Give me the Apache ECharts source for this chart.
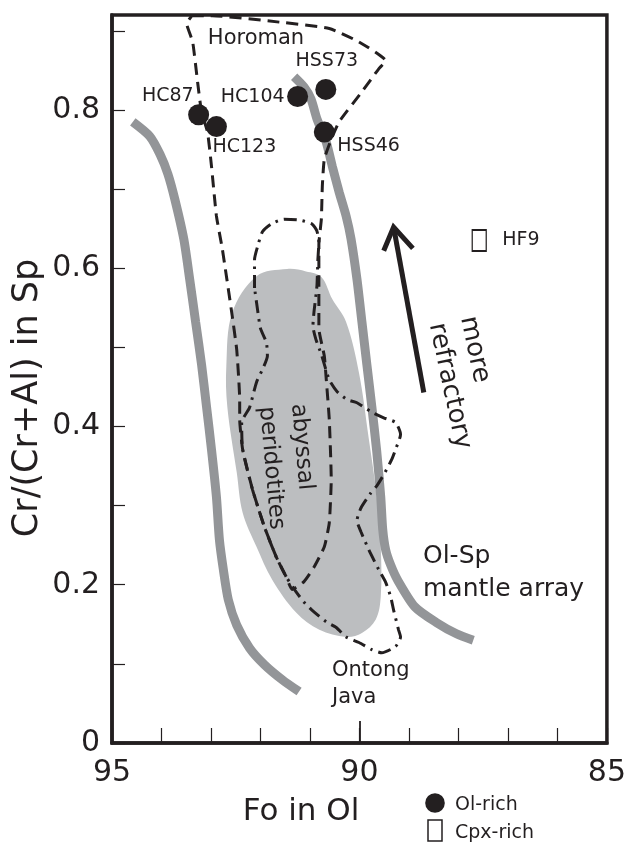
<!DOCTYPE html>
<html>
<head>
<meta charset="utf-8">
<script src="https://cdn.jsdelivr.net/npm/echarts@6/dist/echarts.min.js"></script>
<style>
html,body{margin:0;padding:0;background:#fff;}
#chart{width:629px;height:842px;}
</style>
</head>
<body>
<div id="chart"></div>
<script>
// ---------------- data ----------------
const sampleNames = ['HC87', 'HC123', 'HC104', 'HSS73', 'HSS46'];
const olRichFo = [93.25, 92.89, 91.25, 90.68, 90.71];
const olRichCr = [0.794, 0.779, 0.817, 0.826, 0.772];

const cpxNames = ['HF9'];
const cpxRichFo = [87.58];
const cpxRichCr = [0.635];

// Ol-Sp mantle array boundaries
const mantleLeftFo = [94.58, 94.24, 94.03, 93.87, 93.73, 93.55, 93.43, 93.31, 93.19, 93.09, 92.99, 92.89, 92.83, 92.75, 92.65, 92.48, 92.22, 91.92, 91.56, 91.22];
const mantleLeftCr = [0.785, 0.767, 0.744, 0.719, 0.687, 0.637, 0.586, 0.532, 0.478, 0.425, 0.371, 0.311, 0.257, 0.219, 0.181, 0.149, 0.120, 0.099, 0.080, 0.065];
const mantleRightFo = [91.32, 91.12, 90.98, 90.86, 90.67, 90.55, 90.41, 90.27, 90.17, 90.05, 89.95, 89.85, 89.75, 89.65, 89.57, 89.53, 89.47, 89.37, 89.23, 88.88, 88.44, 88.04, 87.70];
const mantleRightCr = [0.842, 0.829, 0.814, 0.789, 0.759, 0.729, 0.696, 0.666, 0.637, 0.586, 0.532, 0.478, 0.425, 0.368, 0.311, 0.270, 0.244, 0.225, 0.206, 0.172, 0.152, 0.138, 0.130];

// abyssal peridotites field
const abyssalFo = [91.46, 92.08, 92.57, 92.69, 92.67, 92.48, 92.36, 92.08, 91.76, 91.28, 90.81, 90.27, 89.95, 89.67, 89.57, 89.57, 89.65, 89.81, 90.01, 90.27, 90.55, 90.77, 91.08];
const abyssalCr = [0.599, 0.590, 0.544, 0.476, 0.425, 0.342, 0.291, 0.248, 0.206, 0.165, 0.143, 0.134, 0.139, 0.156, 0.185, 0.248, 0.311, 0.384, 0.468, 0.532, 0.561, 0.589, 0.596];

// Horoman field (dashed)
const horomanFo = [93.39, 92.97, 91.62, 90.61, 90.01, 89.47, 89.61, 89.95, 90.41, 90.57, 90.71, 90.75, 90.77, 90.82, 90.82, 90.82, 90.71, 90.67, 90.61, 90.57, 90.61, 90.71, 90.92, 91.12, 91.36, 91.48, 91.68, 91.92, 92.16, 92.36, 92.42, 92.42, 92.48, 92.59, 92.77, 92.89, 92.99, 93.07, 93.19, 93.27, 93.37, 93.49, 93.39];
const horomanCr = [0.919, 0.919, 0.911, 0.903, 0.886, 0.862, 0.852, 0.823, 0.785, 0.763, 0.738, 0.704, 0.662, 0.630, 0.586, 0.524, 0.489, 0.459, 0.409, 0.333, 0.278, 0.248, 0.222, 0.204, 0.194, 0.210, 0.235, 0.273, 0.320, 0.371, 0.409, 0.434, 0.497, 0.548, 0.624, 0.666, 0.729, 0.772, 0.797, 0.835, 0.886, 0.909, 0.919];

// Ontong Java field (dash-dot)
const ontongFo = [92.12, 92.12, 92.06, 91.96, 91.78, 91.52, 91.22, 90.96, 90.86, 90.82, 90.84, 90.86, 90.92, 90.94, 90.88, 90.77, 90.61, 90.45, 90.25, 90.05, 89.75, 89.51, 89.27, 89.17, 89.27, 89.35, 89.51, 89.65, 89.77, 89.97, 90.05, 89.97, 89.81, 89.61, 89.47, 89.37, 89.31, 89.21, 89.17, 89.27, 89.55, 89.75, 90.01, 90.27, 90.47, 90.67, 90.96, 91.12, 91.28, 91.48, 91.68, 91.92, 92.16, 92.36, 92.38, 92.22, 92.08, 91.96, 91.86, 91.88, 92.00, 92.06, 92.12];
const ontongCr = [0.575, 0.611, 0.627, 0.646, 0.656, 0.662, 0.661, 0.656, 0.647, 0.633, 0.611, 0.577, 0.544, 0.527, 0.510, 0.491, 0.459, 0.444, 0.434, 0.430, 0.418, 0.411, 0.405, 0.390, 0.371, 0.358, 0.339, 0.325, 0.316, 0.297, 0.281, 0.267, 0.244, 0.219, 0.203, 0.185, 0.168, 0.143, 0.134, 0.122, 0.114, 0.118, 0.127, 0.134, 0.146, 0.153, 0.168, 0.178, 0.191, 0.210, 0.235, 0.273, 0.320, 0.371, 0.405, 0.424, 0.456, 0.472, 0.489, 0.506, 0.524, 0.548, 0.575];

// "more refractory" arrow
const arrowFo = [88.70, 89.31];
const arrowCr = [0.443, 0.652];
const arrowHeadFo = [89.51, 89.31, 88.92];
const arrowHeadCr = [0.622, 0.652, 0.625];

// axis
const xMin = 85, xMax = 95, yMin = 0, yMax = 0.92;
const xTickLabels = ['85', '90', '95'];
const yTickLabels = ['0', '0.2', '0.4', '0.6', '0.8'];

// ---------------- styling / layout ----------------
const INK = '#231f20';
const FONT = 'DejaVu Sans';
const zip = (a, b) => a.map((v, i) => [v, b[i]]);

const labelPlacement = {
  HC87: { align: 'right', offset: [-5, -19] },
  HC123: { align: 'left', offset: [-4, 20] },
  HC104: { align: 'right', offset: [-13, 1] },
  HSS73: { align: 'center', offset: [1, -28] },
  HSS46: { align: 'left', offset: [13, 14] },
  HF9: { align: 'left', offset: [23, 0] }
};
function pointItem(name, x, y) {
  const p = labelPlacement[name];
  return {
    name: name, value: [x, y],
    label: { show: true, position: 'inside', align: p.align, verticalAlign: 'middle', offset: p.offset,
      formatter: '{b}', color: INK, fontFamily: FONT, fontSize: 19, opacity: 1 }
  };
}

const chart = echarts.init(document.getElementById('chart'), null, { renderer: 'canvas' });

const yLabelFmt = v => {
  const k = Math.round(v * 10);
  if (Math.abs(v * 10 - k) > 1e-6 || k % 2 !== 0) return '';
  const s = k === 0 ? '0' : (k / 10).toFixed(1);
  return yTickLabels.indexOf(s) >= 0 ? s : '';
};
const xLabelFmt = v => {
  const s = String(Math.round(v));
  return xTickLabels.indexOf(s) >= 0 ? s : '';
};

const option = {
  animation: false,
  backgroundColor: '#fff',
  grid: { left: 112, top: 15, width: 497, height: 728, show: true, borderColor: INK, borderWidth: 3.5, backgroundColor: 'transparent' },
  xAxis: [
    { type: 'value', gridIndex: 0, position: 'bottom', min: xMin, max: xMax, interval: 1, inverse: true,
      axisLine: { show: true, lineStyle: { color: INK, width: 3.5 } },
      axisTick: { show: true, inside: true, length: 15, lineStyle: { color: INK, width: 1.2 } },
      axisLabel: { show: false }, splitLine: { show: false } },
    { type: 'value', gridIndex: 0, position: 'bottom', min: xMin, max: xMax, interval: 5, inverse: true,
      axisLine: { show: false },
      axisTick: { show: true, inside: true, length: 22, lineStyle: { color: INK, width: 1.8 } },
      axisLabel: { show: true, margin: 15, color: INK, fontFamily: FONT, fontSize: 30, formatter: xLabelFmt },
      splitLine: { show: false } }
  ],
  yAxis: [
    { type: 'value', min: yMin, max: yMax, interval: 0.1,
      axisLine: { show: true, lineStyle: { color: INK, width: 3.5 } },
      axisTick: { show: true, inside: true, length: 13, lineStyle: { color: INK, width: 1.2 } },
      axisLabel: { show: true, margin: 12, color: INK, fontFamily: FONT, fontSize: 30, formatter: yLabelFmt, showMaxLabel: false },
      splitLine: { show: false } }
  ],
  series: [
    { // abyssal peridotites field
      type: 'custom', name: 'abyssal', z: 1, silent: true,
      data: [0],
      renderItem: function (params, api) {
        const pts = abyssalFo.map((x, i) => api.coord([x, abyssalCr[i]]));
        return { type: 'polygon', shape: { points: pts, smooth: 0.35 }, style: { fill: '#bcbec0', stroke: null } };
      }
    },
    { type: 'line', name: 'mantleLeft', z: 2, data: zip(mantleLeftFo, mantleLeftCr), showSymbol: false, symbol: 'none', smooth: 0.25,
      lineStyle: { color: '#939598', width: 9, cap: 'butt' } },
    { type: 'line', name: 'mantleRight', z: 2, data: zip(mantleRightFo, mantleRightCr), showSymbol: false, symbol: 'none', smooth: 0.25,
      lineStyle: { color: '#939598', width: 9, cap: 'butt' } },
    { type: 'line', name: 'Horoman', z: 3, data: zip(horomanFo, horomanCr), showSymbol: false, symbol: 'none', smooth: 0.15,
      lineStyle: { color: INK, width: 3, type: [12, 7] } },
    { type: 'line', name: 'Ontong Java', z: 3, data: zip(ontongFo, ontongCr), showSymbol: false, symbol: 'none', smooth: 0.2,
      lineStyle: { color: INK, width: 3, type: [13, 6, 2.5, 6] } },
    { type: 'line', name: 'arrow', z: 4, data: zip(arrowFo, arrowCr), showSymbol: false, symbol: 'none',
      lineStyle: { color: INK, width: 5, cap: 'butt' } },
    { type: 'line', name: 'arrowHead', z: 4, data: zip(arrowHeadFo, arrowHeadCr), showSymbol: false, symbol: 'none',
      lineStyle: { color: INK, width: 5, join: 'miter', cap: 'butt' } },
    { type: 'scatter', name: 'Ol-rich', z: 5, symbol: 'circle', symbolSize: 21,
      itemStyle: { color: INK, opacity: 1 },
      data: sampleNames.map((n, i) => pointItem(n, olRichFo[i], olRichCr[i])) },
    { type: 'scatter', name: 'Cpx-rich', z: 5, symbol: 'rect', symbolSize: [14, 21],
      itemStyle: { color: '#fff', borderColor: INK, borderWidth: 1.5, opacity: 1 },
      data: cpxNames.map((n, i) => pointItem(n, cpxRichFo[i], cpxRichCr[i])) }
  ],
  graphic: [
    { type: 'text', x: 28, y: 398, rotation: Math.PI / 2,
      style: { text: 'Cr/(Cr+Al) in Sp', font: '35px "DejaVu Sans"', fill: INK, align: 'center', verticalAlign: 'middle' } },
    { type: 'text', x: 301, y: 812,
      style: { text: 'Fo in Ol', font: '31px "DejaVu Sans"', fill: INK, align: 'center', verticalAlign: 'middle' } },
    { type: 'text', x: 256, y: 39, z: 10,
      style: { text: 'Horoman', font: '21px "DejaVu Sans"', fill: INK, align: 'center', verticalAlign: 'middle' } },
    { type: 'text', x: 282, y: 405, z: 10, rotation: -85 * Math.PI / 180,
      style: { text: 'abyssal\nperidotites', font: '23px "DejaVu Sans"', lineHeight: 32, fill: INK, align: 'left', verticalAlign: 'middle' } },
    { type: 'text', x: 452, y: 320, z: 10, rotation: -78 * Math.PI / 180,
      style: { text: 'more\nrefractory', font: '26px "DejaVu Sans"', lineHeight: 32, fill: INK, align: 'left', verticalAlign: 'middle' } },
    { type: 'text', x: 423, y: 556, z: 10,
      style: { text: 'Ol-Sp', font: '25px "DejaVu Sans"', fill: INK, align: 'left', verticalAlign: 'middle' } },
    { type: 'text', x: 423, y: 589, z: 10,
      style: { text: 'mantle array', font: '25px "DejaVu Sans"', fill: INK, align: 'left', verticalAlign: 'middle' } },
    { type: 'text', x: 332, y: 671, z: 10,
      style: { text: 'Ontong', font: '21px "DejaVu Sans"', fill: INK, align: 'left', verticalAlign: 'middle' } },
    { type: 'text', x: 332, y: 698, z: 10,
      style: { text: 'Java', font: '21px "DejaVu Sans"', fill: INK, align: 'left', verticalAlign: 'middle' } },
    // legend
    { type: 'circle', shape: { cx: 435, cy: 803, r: 9.8 }, style: { fill: INK } },
    { type: 'text', x: 455, y: 805,
      style: { text: 'Ol-rich', font: '19px "DejaVu Sans"', fill: INK, align: 'left', verticalAlign: 'middle' } },
    { type: 'rect', shape: { x: 428, y: 820, width: 14, height: 21 }, style: { fill: '#fff', stroke: INK, lineWidth: 1.5 } },
    { type: 'text', x: 455, y: 833,
      style: { text: 'Cpx-rich', font: '19px "DejaVu Sans"', fill: INK, align: 'left', verticalAlign: 'middle' } }
  ]
};
chart.setOption(option);
</script>
</body>
</html>
